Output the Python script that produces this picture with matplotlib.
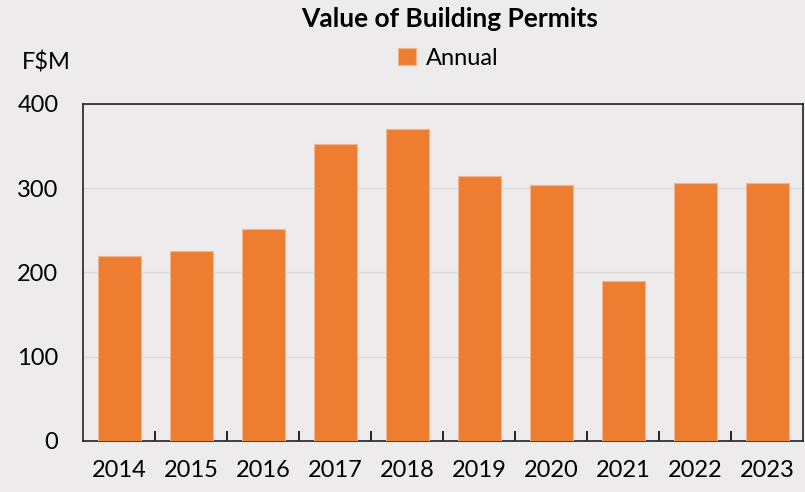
import numpy as np
import matplotlib.pyplot as plt

plt.rcParams['font.family'] = ['Lato', 'DejaVu Sans']

years = ['2014', '2015', '2016', '2017', '2018', '2019', '2020', '2021', '2022', '2023']
annual = [220, 226, 252, 353, 370, 314, 304, 190, 306, 306.5]

bg = '#edebeb'
fig = plt.figure(figsize=(8.05, 4.92), dpi=100, facecolor=bg)
ax = fig.add_axes([0.1037, 0.1037, 0.894, 0.685], facecolor=bg)

x = np.arange(len(years))
ax.bar(x, annual, width=0.6, color='#ed7d31', edgecolor='#f5b58c', linewidth=0.8,
       label='Annual', zorder=3)

ax.set_xlim(-0.5, len(years) - 0.5)
ax.set_ylim(0, 400)
ax.set_yticks([0, 100, 200, 300, 400])
ax.yaxis.grid(True, color='#d9d9d9', linewidth=1, zorder=0)
ax.tick_params(axis='y', length=0, pad=18, labelsize=17)

ax.set_xticks(x)
ax.set_xticklabels(years)
ax.set_xticks(np.arange(len(years) - 1) + 0.5, minor=True)
ax.tick_params(axis='x', which='major', length=0, pad=14, labelsize=17)
ax.tick_params(axis='x', which='minor', direction='in', length=7, width=1.2)

for s in ax.spines.values():
    s.set_color('#222222')
    s.set_linewidth(1.2)

fig.text(0.559, 0.962, 'Value of Building Permits', ha='center', va='center',
         fontsize=19, fontweight='bold')
fig.text(0.058, 0.873, 'F$M', ha='center', va='center', fontsize=17)
fig.legend(loc='center', bbox_to_anchor=(0.557, 0.882), frameon=False, fontsize=17,
           handlelength=0.75, handleheight=0.75, handletextpad=0.4)

fig.savefig('out.png', dpi=100, facecolor=bg)
